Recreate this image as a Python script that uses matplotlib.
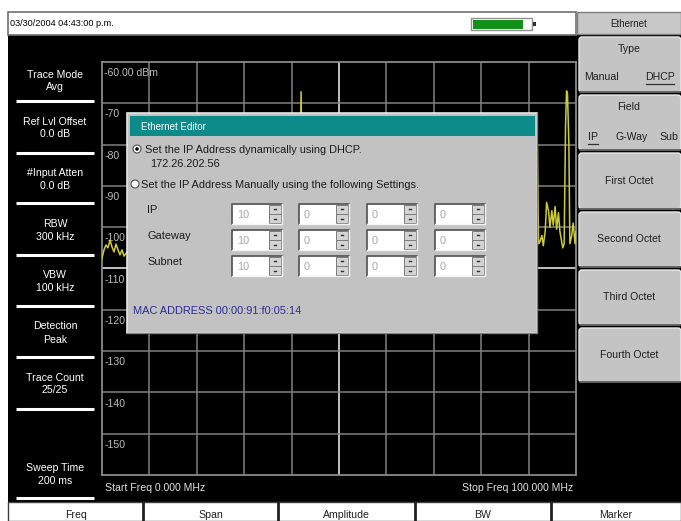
import matplotlib
matplotlib.use("Agg")
import matplotlib.pyplot as plt
from matplotlib.patches import Rectangle, FancyBboxPatch, Circle

plt.rcParams['font.family'] = ['Liberation Sans', 'DejaVu Sans']

# ---------------- data ----------------
trace_freq_mhz = [0.0, 0.42, 0.84, 1.27, 1.69, 2.11, 2.53, 2.95, 3.38, 3.80, 4.22, 4.64, 5.27,
                  6.0, 8.0, 10.0, 13.0, 16.0, 20.0, 24.0, 28.0, 32.0, 36.0, 40.0, 41.6, 42.0,
                  42.4, 43.0, 46.0, 50.0, 55.0, 60.0, 65.0, 70.0, 75.0, 80.0, 85.0, 88.0, 90.0,
                  91.0, 91.5, 91.85, 92.1, 92.4, 92.8, 93.1, 93.5, 93.8, 94.2, 94.5, 94.9, 95.2,
                  95.6, 95.9, 96.3, 96.6, 97.2, 97.5, 97.8, 98.0, 98.2, 98.5, 98.7, 99.1, 99.4,
                  99.8, 100.0]
trace_dbm = [-107.5, -105.5, -104.3, -105.0, -103.1, -104.8, -106.0, -104.1, -105.5, -106.7,
             -105.5, -107.0, -106.0,
             -105.0, -106.5, -104.0, -105.5, -106.0, -104.5, -105.0, -106.0, -104.5, -105.5,
             -105.0, -104.0, -67.2,
             -104.0, -105.5, -104.5, -106.0, -105.0, -104.0, -105.5, -106.0, -104.5, -105.0,
             -104.0, -103.0, -104.5,
             -103.0, -80.0, -80.5, -104.0, -103.5, -102.0, -104.5, -101.0, -94.0, -96.0, -100.0,
             -96.0, -99.5,
             -95.0, -100.5, -96.5, -101.0, -105.0, -104.0, -75.0, -67.0, -67.5, -80.0, -104.0,
             -102.0, -99.0,
             -104.0, -101.0]

ref_level = -60
div_db = 10
y_labels = ["-60.00 dBm", "-70", "-80", "-90", "-100", "-110", "-120", "-130", "-140", "-150"]
start_freq = 0.0
stop_freq = 100.0

left_params = [("Trace Mode", "Avg"), ("Ref Lvl Offset", "0.0 dB"), ("#Input Atten", "0.0 dB"),
               ("RBW", "300 kHz"), ("VBW", "100 kHz"), ("Detection", "Peak"),
               ("Trace Count", "25/25"), ("Sweep Time", "200 ms")]
bottom_keys = ["Freq", "Span", "Amplitude", "BW", "Marker"]
octet_keys = ["First Octet", "Second Octet", "Third Octet", "Fourth Octet"]
ip_values = [10, 0, 0, 0]
gateway_values = [10, 0, 0, 0]
subnet_values = [10, 0, 0, 0]
timestamp = "03/30/2004 04:43:00 p.m."
dhcp_ip = "172.26.202.56"
mac_address = "MAC ADDRESS 00:00:91:f0:05:14"

# ---------------- figure ----------------
W, H = 681, 521
fig = plt.figure(figsize=(W / 100, H / 100), dpi=100, facecolor='white')

bg = fig.add_axes([0, 0, 1, 1], zorder=0)
bg.set_xlim(0, W); bg.set_ylim(H, 0); bg.axis('off')

FS = 7.6
DFS = 7.9
# main black area
bg.add_patch(Rectangle((8, 35), W - 8, 467, facecolor='black', edgecolor='none'))
# top bar
bg.add_patch(Rectangle((8, 12), 568, 23, facecolor='white', edgecolor='#707070', lw=1.2))
bg.text(10, 24, timestamp, fontsize=6.6, color='black', va='center', ha='left')
# battery
bg.add_patch(Rectangle((471, 18), 61, 12, facecolor='white', edgecolor='#909090', lw=1))
bg.add_patch(Rectangle((473, 19.5), 50, 9, facecolor='#12901a', edgecolor='none'))
bg.add_patch(Rectangle((533, 22), 2.5, 4, facecolor='#303030', edgecolor='none'))

# left panel
left_y = [(75, 87), (122, 134), (173, 186), (224, 237), (275, 288), (326, 340), (378, 390), (468, 481)]
sep_y = [101, 153, 203, 255, 306, 357, 409, 498]
for (l1, l2), (y1, y2) in zip(left_params, left_y):
    bg.text(55, y1, l1, fontsize=FS, color='white', ha='center', va='center')
    bg.text(55, y2, l2, fontsize=FS, color='white', ha='center', va='center')
for sy in sep_y:
    bg.plot([16, 94], [sy, sy], color='white', lw=2.2, solid_capstyle='butt')

# frequency labels
bg.text(105, 488, f"Start Freq {start_freq:.3f} MHz", fontsize=FS, color='#e0e0e0', ha='left', va='center')
bg.text(573, 488, f"Stop Freq {stop_freq:.3f} MHz", fontsize=FS, color='#e0e0e0', ha='right', va='center')

# bottom bar
bg.add_patch(Rectangle((8, 502), W - 8, 19, facecolor='white', edgecolor='#404040', lw=1))
bsep = [8, 143, 278, 415, 551, W]
for x in bsep[1:-1]:
    bg.plot([x, x], [502, 521], color='#202020', lw=2)
for i, k in enumerate(bottom_keys):
    bg.text((bsep[i] + bsep[i + 1]) / 2, 515, k, fontsize=FS, color='#202020', ha='center', va='center')

# right panel
def button(y0, y1):
    bg.add_patch(FancyBboxPatch((579, y0), W - 579, y1 - y0,
                                boxstyle="round,pad=0,rounding_size=3",
                                facecolor='#c4c4c4', edgecolor='#e8e8e8', lw=1))
    bg.plot([580, W], [y1, y1], color='#505050', lw=1.2)

bg.add_patch(Rectangle((577, 12), W - 577, 22, facecolor='#c8c8c8', edgecolor='#808080', lw=1))
bg.text(629, 24, "Ethernet", fontsize=7.0, color='#202020', ha='center', va='center')
btn_y = [(37, 92), (95, 150), (153, 209), (212, 267), (270, 325), (328, 382)]
for y0, y1 in btn_y:
    button(y0, y1)
bg.text(629, 49, "Type", fontsize=FS, color='#202020', ha='center', va='center')
bg.text(601, 77, "Manual", fontsize=FS, color='#202020', ha='center', va='center')
bg.text(660, 77, "DHCP", fontsize=FS, color='#202020', ha='center', va='center')
bg.plot([646, 674], [84, 84], color='#303030', lw=0.9)
bg.text(629, 107, "Field", fontsize=FS, color='#202020', ha='center', va='center')
bg.text(593, 137, "IP", fontsize=FS, color='#202020', ha='center', va='center')
bg.plot([588, 598], [144, 144], color='#303030', lw=0.9)
bg.text(632, 137, "G-Way", fontsize=FS, color='#202020', ha='center', va='center')
bg.text(669, 137, "Sub", fontsize=FS, color='#202020', ha='center', va='center')
for k, (y0, y1) in zip(octet_keys, btn_y[2:]):
    bg.text(629, (y0 + y1) / 2, k, fontsize=FS, color='#202020', ha='center', va='center')

# ---------------- spectrum axes ----------------
px0, py0, px1, py1 = 102, 62, 576, 475
ax = fig.add_axes([px0 / W, 1 - py1 / H, (px1 - px0) / W, (py1 - py0) / H], zorder=1)
ax.set_facecolor('black')
ax.set_xlim(start_freq, stop_freq)
ax.set_ylim(ref_level - 10 * div_db, ref_level)
xt = [start_freq + i * (stop_freq - start_freq) / 10 for i in range(11)]
yt = [ref_level - i * div_db for i in range(11)]
for i, x in enumerate(xt[1:-1], 1):
    ax.axvline(x, color='#d0d0d0' if i == 5 else '#808080', lw=1.3 if i == 5 else 1.1, zorder=1)
for i, y in enumerate(yt[1:-1], 1):
    ax.axhline(y, color='#d0d0d0' if i == 5 else '#808080', lw=1.3 if i == 5 else 1.1, zorder=1)
ax.set_xticks([]); ax.set_yticks([])
for s in ax.spines.values():
    s.set_color('#8a8a8a'); s.set_linewidth(1.3)
for lab, y in zip(y_labels, yt):
    ax.text(0.5, y - 2.7, lab, fontsize=FS, color='#bcbcbc', ha='left', va='center', zorder=2)
ax.plot(trace_freq_mhz, trace_dbm, color='#cccc3a', lw=1.1, zorder=3)

# ---------------- dialog overlay ----------------
ov = fig.add_axes([0, 0, 1, 1], zorder=2)
ov.set_xlim(0, W); ov.set_ylim(H, 0); ov.axis('off')
ov.patch.set_alpha(0)

ov.add_patch(Rectangle((127, 113), 410, 220, facecolor='#c2c2c2', edgecolor='#e6e6e6', lw=1.2))
ov.plot([127, 537, 537], [333, 333, 113], color='#808080', lw=1)
ov.add_patch(Rectangle((130, 116), 405, 20, facecolor='#0d8b8b', edgecolor='none'))
ov.text(141, 126.5, "Ethernet Editor", fontsize=7.0, color='white', ha='left', va='center')

TC = '#1c1c1c'
ov.add_patch(Circle((137, 149), 4, facecolor='white', edgecolor='#505050', lw=0.8))
ov.add_patch(Circle((137, 149), 1.8, facecolor='black', edgecolor='none'))
ov.text(145, 150, "Set the IP Address dynamically using DHCP.", fontsize=DFS, color=TC, ha='left', va='center')
ov.text(150, 164, dhcp_ip, fontsize=DFS, color=TC, ha='left', va='center')
ov.add_patch(Circle((135, 184), 4, facecolor='white', edgecolor='#505050', lw=0.8))
ov.text(141, 184.5, "Set the IP Address Manually using the following Settings.", fontsize=DFS,
        color=TC, ha='left', va='center')

row_labels = ["IP", "Gateway", "Subnet"]
row_vals = [ip_values, gateway_values, subnet_values]
row_y = [204, 230, 256]
box_x = [232, 299, 367, 435]
bw, bh = 50, 20
for lab, vals, y0 in zip(row_labels, row_vals, row_y):
    ov.text(147, y0 + 6, lab, fontsize=DFS, color=TC, ha='left', va='center')
    for x0, v in zip(box_x, vals):
        ov.add_patch(Rectangle((x0, y0), bw, bh, facecolor='white', edgecolor='none'))
        ov.add_patch(Rectangle((x0 + bw - 13, y0 + 1), 12, bh - 2, facecolor='#d4d4d4',
                               edgecolor='#7a7a7a', lw=0.7))
        ov.plot([x0 + bw - 13, x0 + bw - 1], [y0 + bh / 2, y0 + bh / 2], color='#7a7a7a', lw=0.7)
        ov.plot([x0 + bw - 8, x0 + bw - 6], [y0 + 5, y0 + 5], color='#303030', lw=1)
        ov.plot([x0 + bw - 8, x0 + bw - 6], [y0 + 15, y0 + 15], color='#303030', lw=1)
        ov.plot([x0, x0, x0 + bw], [y0 + bh, y0, y0], color='#5a5a5a', lw=1.3)
        ov.plot([x0, x0 + bw, x0 + bw], [y0 + bh, y0 + bh, y0], color='#f4f4f4', lw=1)
        ov.text(x0 + 5, y0 + bh / 2 + 0.5, str(v), fontsize=DFS, color='#a8a8a8', ha='left', va='center')

ov.text(133, 311, mac_address, fontsize=DFS, color='#2c2c96', ha='left', va='center')

fig.savefig("out.png", dpi=100, facecolor='white')
